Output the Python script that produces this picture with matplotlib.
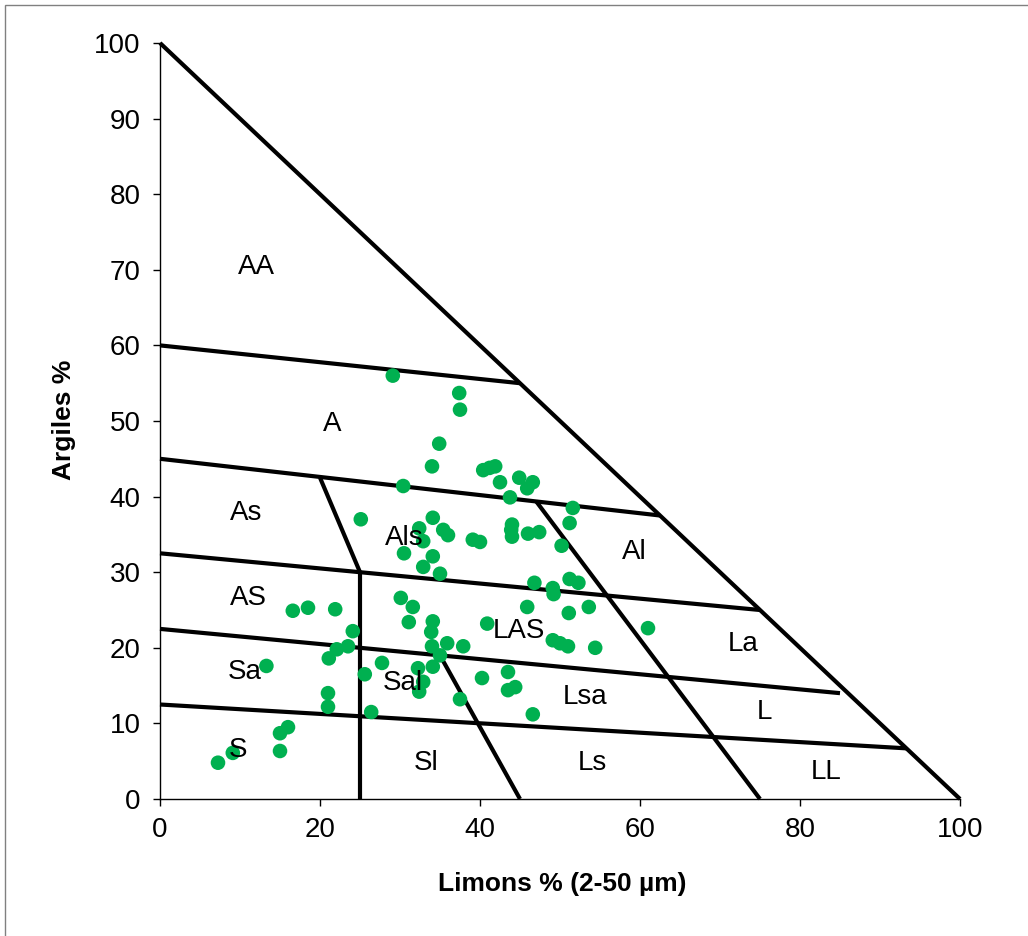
import matplotlib
matplotlib.use("Agg")
import matplotlib.pyplot as plt
from matplotlib.patches import Rectangle

plt.rcParams['font.family'] = ['Liberation Sans', 'DejaVu Sans']

# Sample points: Limons % (x), Argiles % (y)
limons = [29.1, 37.4, 37.5, 34.9, 34.0, 30.4, 40.4, 41.2, 41.9, 42.5, 44.9, 46.6, 45.9, 43.75,
          51.6, 51.2, 50.2,
          25.1, 34.1, 32.4, 35.4, 36.0, 32.9, 39.1, 40.0, 44.0, 43.9, 44.0, 46.0, 47.4,
          30.5, 34.1, 32.9, 35.0,
          46.8, 49.1, 49.2, 51.2, 52.3, 30.1, 31.6, 45.9, 51.1, 53.6, 31.1, 34.1, 33.9,
          40.9, 61.0, 34.0, 35.9, 37.9, 49.1, 50.0, 51.0, 54.4, 35.0,
          16.6, 18.5, 21.9, 24.1,
          23.5, 22.1, 21.1, 13.3, 25.6, 21.0, 21.0, 26.4, 27.75, 32.25, 34.1, 32.9, 32.4,
          40.25, 43.5, 43.5, 44.4, 37.5, 46.6,
          16.0, 15.0, 15.0, 9.1, 7.25]
argiles = [56.0, 53.7, 51.5, 47.0, 44.0, 41.4, 43.5, 43.8, 44.0, 41.9, 42.5, 41.9, 41.1, 39.9,
           38.5, 36.5, 33.5,
           37.0, 37.2, 35.8, 35.6, 34.9, 34.1, 34.3, 34.0, 36.3, 35.6, 34.7, 35.1, 35.3,
           32.5, 32.1, 30.7, 29.8,
           28.6, 27.9, 27.1, 29.1, 28.6, 26.6, 25.4, 25.4, 24.6, 25.4, 23.4, 23.5, 22.1,
           23.2, 22.6, 20.2, 20.6, 20.2, 21.0, 20.6, 20.2, 20.0, 19.0,
           24.9, 25.3, 25.1, 22.2,
           20.2, 19.8, 18.6, 17.6, 16.5, 14.0, 12.2, 11.5, 18.0, 17.3, 17.5, 15.5, 14.2,
           16.0, 16.8, 14.4, 14.8, 13.2, 11.2,
           9.5, 8.7, 6.35, 6.1, 4.8]

# Texture-class boundaries (x = limons, y = argiles)
boundaries = [
    ([0, 100], [100, 0]),
    ([0, 45], [60, 55]),
    ([0, 62.5], [45, 37.5]),
    ([0, 75], [32.5, 25]),
    ([0, 85], [22.5, 14]),
    ([0, 93.3], [12.5, 6.7]),
    ([20, 25, 25], [42.5, 30, 0]),
    ([35, 45], [19, 0]),
    ([47, 75], [39.4, 0]),
]

class_names = ['AA', 'A', 'As', 'Als', 'Al', 'AS', 'LAS', 'La', 'Sa', 'Sal', 'Lsa', 'L',
               'S', 'Sl', 'Ls', 'LL']
class_x = [12.1, 21.5, 10.75, 30.5, 59.25, 11.0, 44.9, 72.9, 10.6, 30.4, 53.1, 75.6,
           9.75, 33.25, 54.1, 83.25]
class_y = [70.4, 49.6, 37.8, 34.5, 32.7, 26.6, 22.2, 20.5, 16.8, 15.3, 13.5, 11.5,
           6.5, 4.8, 4.8, 3.6]

xticks = [0, 20, 40, 60, 80, 100]
yticks = [0, 10, 20, 30, 40, 50, 60, 70, 80, 90, 100]

W, H = 1028, 936
fig = plt.figure(figsize=(W / 100, H / 100), dpi=100)
ax = fig.add_axes([160 / W, 1 - 799 / H, 800 / W, 756 / H])

for bx, by in boundaries:
    ax.plot(bx, by, color='black', lw=3, solid_capstyle='butt', clip_on=False, zorder=2)

ax.scatter(limons, argiles, s=110, color='#00B050', edgecolors='none', zorder=3, clip_on=False)

for name, tx, ty in zip(class_names, class_x, class_y):
    ax.text(tx, ty, name, fontsize=20, ha='center', va='center', color='black', zorder=4)

ax.set_xlim(0, 100)
ax.set_ylim(0, 100)
ax.set_xticks(xticks)
ax.set_yticks(yticks)
ax.tick_params(axis='both', direction='out', length=5, width=1, labelsize=20, color='black')
ax.tick_params(axis='y', pad=9)
ax.tick_params(axis='x', pad=8)
for sp in ['top', 'right']:
    ax.spines[sp].set_visible(False)
for sp in ['left', 'bottom']:
    ax.spines[sp].set_linewidth(1)
    ax.spines[sp].set_color('black')

fig.text(562 / W, 1 - 884 / H, 'Limons % (2-50 µm)', fontsize=19, fontweight='bold',
         ha='center', va='center')
fig.text(64 / W, 1 - 420 / H, 'Argiles %', fontsize=19, fontweight='bold',
         ha='center', va='center', rotation=90)

# outer chart border (left and top visible)
fig.patches.append(Rectangle((5 / W, -0.05), 1.2, 1 - 5 / H + 0.05, transform=fig.transFigure,
                             fill=False, edgecolor='#808080', lw=1))

fig.savefig('out.png', dpi=100)
